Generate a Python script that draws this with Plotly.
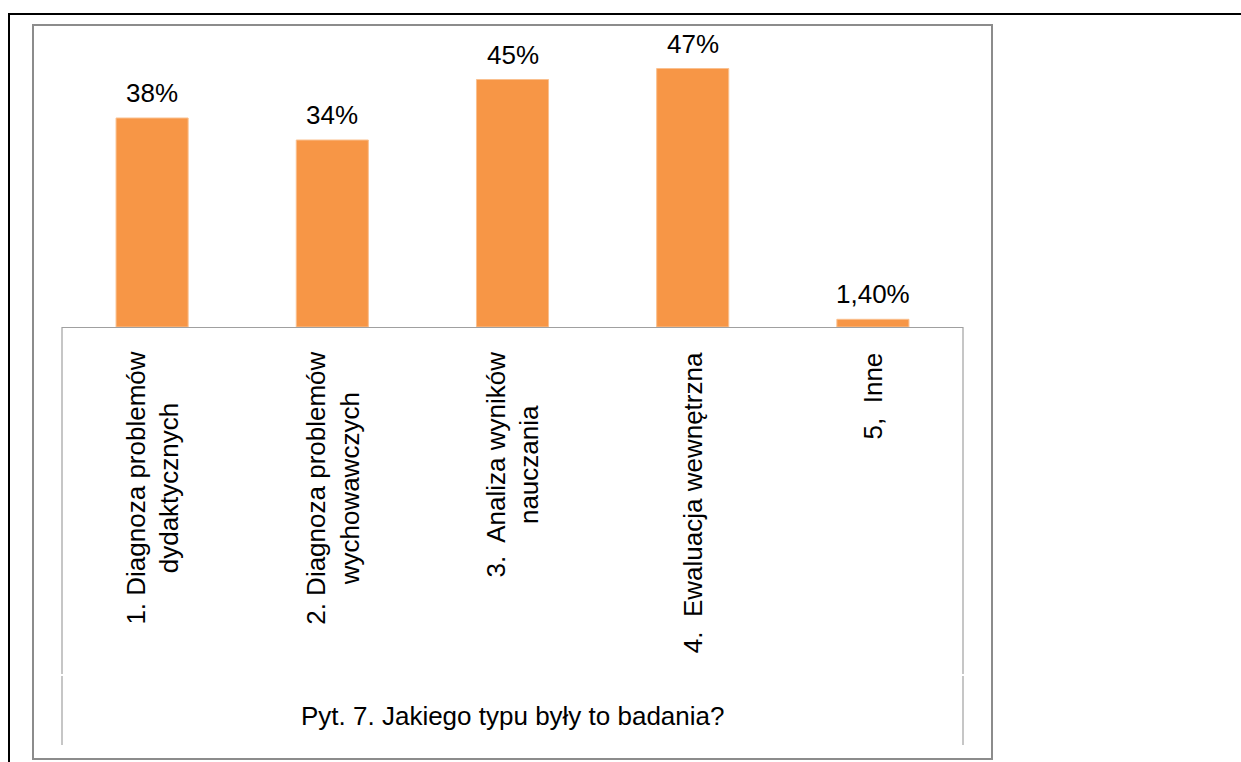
import plotly.graph_objects as go

categories = ["1. Diagnoza problemów<br>dydaktycznych",
              "2. Diagnoza problemów<br>wychowawczych",
              "3.  Analiza wyników<br>nauczania",
              "4.  Ewaluacja wewnętrzna",
              "5,  Inne"]
values = [38, 34, 45, 47, 1.4]
value_labels = ["38%", "34%", "45%", "47%", "1,40%"]
group_title = "Pyt. 7. Jakiego typu były to badania?"

W, H = 1241, 762
L, R = 62, 963          # plot area x in px
T, B = 26, 327          # plot area y in px
PX_PER_PCT = 5.5

def px_x(px):
    return (px - L) / (R - L)

def px_y(py):
    return (B - py) / (B - T)

FONT = "Liberation Sans, Arial, sans-serif"

fig = go.Figure()
fig.add_trace(go.Bar(
    x=list(range(len(categories))), y=values,
    marker=dict(color="#F79646", line=dict(color="#FAC08F", width=1)),
    width=0.4, hoverinfo="skip",
))

annotations = []
for i, (v, lab) in enumerate(zip(values, value_labels)):
    annotations.append(dict(x=i, y=v, xref="x", yref="y", text=lab,
                            showarrow=False, yanchor="bottom", yshift=8,
                            font=dict(family=FONT, size=26, color="black")))
for i, cat in enumerate(categories):
    annotations.append(dict(x=i, y=px_y(350), xref="x", yref="paper", text=cat,
                            showarrow=False, textangle=-90, yanchor="top",
                            xanchor="center", align="center",
                            font=dict(family=FONT, size=26, color="black")))
annotations.append(dict(x=0.5, y=px_y(716), xref="paper", yref="paper",
                        text=group_title, showarrow=False, yanchor="middle",
                        font=dict(family=FONT, size=26, color="black")))

shapes = [
    # outer black frame (top/left visible)
    dict(type="rect", xref="paper", yref="paper",
         x0=px_x(9), x1=px_x(1300), y0=px_y(800), y1=px_y(14),
         line=dict(color="black", width=2), layer="below"),
    # gray chart frame
    dict(type="rect", xref="paper", yref="paper",
         x0=px_x(33), x1=px_x(992), y0=px_y(759), y1=px_y(25),
         line=dict(color="#8c8c8c", width=2), layer="below"),
]
for xp in (L, R):
    for y0, y1 in ((327, 674), (676, 745)):
        shapes.append(dict(type="line", xref="paper", yref="paper",
                           x0=px_x(xp), x1=px_x(xp), y0=px_y(y0), y1=px_y(y1),
                           line=dict(color="#a0a0a0", width=1.2)))

fig.update_layout(
    width=W, height=H,
    margin=dict(l=L, r=W - R, t=T, b=H - B),
    paper_bgcolor="white", plot_bgcolor="rgba(0,0,0,0)",
    showlegend=False,
    xaxis=dict(range=[-0.5, len(categories) - 0.5], showticklabels=False,
               showgrid=False, zeroline=False, showline=True,
               linecolor="#a0a0a0", linewidth=1.2, ticks=""),
    yaxis=dict(range=[0, (B - T) / PX_PER_PCT], visible=False),
    annotations=annotations, shapes=shapes,
    bargap=0.6,
)

fig.write_html("out.html")
